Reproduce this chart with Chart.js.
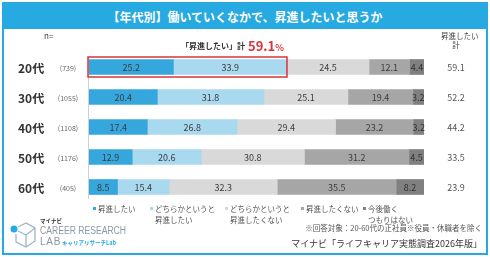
<!DOCTYPE html>
<html><head><meta charset="utf-8">
<script src="https://cdn.jsdelivr.net/npm/chart.js@4/dist/chart.umd.min.js"></script>
<style>
html,body{margin:0;padding:0;background:#fff;}
body{width:490px;height:257px;overflow:hidden;font-family:"Noto Sans CJK JP","Noto Sans",sans-serif;}
#wrap{position:relative;width:490px;height:257px;}
#frame{position:absolute;left:2px;top:2px;width:482px;height:249px;border:2px solid #27a9e1;box-sizing:content-box;}
#title{position:absolute;left:4px;top:4px;width:482px;height:25px;background:#27a9e1;color:#fff;font-weight:bold;font-size:12px;line-height:25px;text-align:center;}
canvas{position:absolute;left:0;top:0;}
.t{position:absolute;white-space:nowrap;color:#444;}
.lg{position:absolute;font-size:7.5px;line-height:11px;color:#555;top:203px;}
.lg i{position:absolute;left:-5px;top:4px;width:3px;height:3px;}
</style></head>
<body><div id="wrap">
<div id="frame"></div>
<div id="title">【年代別】働いていくなかで、昇進したいと思うか</div>
<canvas id="c" width="490" height="257"></canvas>
<div class="t" style="left:44px;top:30px;font-size:8px;">n=</div>
<div class="t" style="left:441px;top:31px;font-size:7.5px;line-height:9px;text-align:center;width:30px;">昇進したい<br>計</div>
<div class="t" style="left:181px;top:40px;font-size:8px;font-weight:bold;color:#333;">「昇進したい」計</div>
<div class="t" style="left:248px;top:36px;font-size:13px;font-weight:bold;color:#d8343a;">59.1<span style="font-size:9px;">%</span></div>
<div id="legend"></div>
<div class="t" style="right:8px;top:222px;font-size:7.5px;color:#555;">※回答対象：20-60代の正社員※役員・休職者を除く</div>
<div class="t" style="right:8px;top:237px;font-size:9px;color:#333;">マイナビ「ライフキャリア実態調査2026年版」</div>
<svg style="position:absolute;left:8px;top:221px;" width="30" height="31" viewBox="0 0 30 31">
<g fill="none" stroke="#9fb6c6" stroke-width="1.3"><path d="M10 6 L18 2 L27 7 L27 20 L18 26 L8 21 L8 13"/><path d="M18 14 L27 7 M18 14 L18 26 M18 14 L10 10"/></g>
<circle cx="6" cy="8" r="3.5" fill="#27a9e1"/></svg>
<div class="t" style="left:40px;top:217px;font-size:5.5px;font-weight:bold;color:#333;">マイナビ</div>
<div class="t" style="left:40px;top:225px;font-size:10px;color:#8a9aa6;font-family:'Liberation Sans',sans-serif;transform:scaleX(0.86);transform-origin:left top;">CAREER RESEARCH</div>
<div class="t" style="left:40px;top:236px;font-size:10px;color:#8a9aa6;font-family:'Liberation Sans',sans-serif;letter-spacing:0.8px;">LAB</div>
<div class="t" style="left:62px;top:239px;font-size:5.5px;color:#27a9e1;font-weight:bold;">キャリアリサーチLab</div>
</div>
<script>
const categories = ["20代","30代","40代","50代","60代"];
const sampleN = ["(739)","(1055)","(1108)","(1176)","(405)"];
const seriesNames = ["昇進したい","どちらかというと\n昇進したい","どちらかというと\n昇進したくない","昇進したくない","今後働く\nつもりはない"];
const want = [25.2,20.4,17.4,12.9,8.5];
const ratherWant = [33.9,31.8,26.8,20.6,15.4];
const ratherNot = [24.5,25.1,29.4,30.8,32.3];
const notWant = [12.1,19.4,23.2,31.2,35.5];
const noWork = [4.4,3.2,3.2,4.5,8.2];
const totals = ["59.1","52.2","44.2","33.5","23.9"];
const highlightTotal = 59.1;

const colors = ["#36a7dd","#a9d9ef","#d9d9d9","#a6a6a6","#808080"];
const seriesData = [want,ratherWant,ratherNot,notWant,noWork];

const lgX = [98,155,230,306,368];
const lg = document.getElementById('legend');
seriesNames.forEach((n,i)=>{
  const d=document.createElement('div');d.className='lg';d.style.left=lgX[i]+'px';
  d.innerHTML='<i style="background:'+colors[i]+'"></i>'+n.replace('\n','<br>');
  lg.appendChild(d);
});

const deco = {
  id:'deco',
  afterDatasetsDraw(chart){
    const ctx=chart.ctx, x=chart.scales.x, y=chart.scales.y;
    ctx.save();
    ctx.textAlign='center';ctx.textBaseline='middle';
    ctx.font='9px "Noto Sans CJK JP","Noto Sans",sans-serif';
    chart.data.datasets.forEach((ds,di)=>{
      const meta=chart.getDatasetMeta(di);
      meta.data.forEach((bar,i)=>{
        ctx.fillStyle= di===4 ? '#333' : '#3c3c3c';
        ctx.fillText(ds.data[i].toFixed(1),(bar.x+bar.base)/2,bar.y+0.5);
      });
    });
    categories.forEach((c,i)=>{
      const py=y.getPixelForValue(i);
      ctx.textAlign='left';ctx.fillStyle='#333';
      ctx.font='bold 12px "Noto Sans CJK JP",sans-serif';
      ctx.fillText(c,18,py+1);
      ctx.textAlign='center';ctx.fillStyle='#666';
      ctx.font='7px "Noto Sans CJK JP",sans-serif';
      ctx.fillText(sampleN[i],68,py+1);
      ctx.fillStyle='#555';ctx.font='9px "Noto Sans CJK JP",sans-serif';
      ctx.fillText(totals[i],456,py+1);
    });
    const x0=x.getPixelForValue(0);
    ctx.strokeStyle='#d0d0d0';ctx.lineWidth=1;
    ctx.beginPath();ctx.moveTo(x0-0.5,y.getPixelForValue(0)-10);ctx.lineTo(x0-0.5,y.getPixelForValue(4)+12);ctx.stroke();
    const b=chart.getDatasetMeta(0).data[0];
    const h=b.height/2+2.5;
    ctx.strokeStyle='#d8343a';ctx.lineWidth=1.5;
    ctx.strokeRect(x0-1,b.y-h,x.getPixelForValue(highlightTotal)-x0+1,h*2);
    ctx.restore();
  }
};

new Chart(document.getElementById('c'),{
  type:'bar',
  data:{labels:categories,datasets:seriesData.map((d,i)=>({label:seriesNames[i],data:d,backgroundColor:colors[i],borderWidth:0}))},
  options:{
    indexAxis:'y',responsive:false,animation:false,
    layout:{padding:{left:89,right:66,top:52,bottom:55}},
    scales:{
      x:{stacked:true,min:0,max:100,display:false},
      y:{stacked:true,display:false,grid:{display:false}}
    },
    datasets:{bar:{barThickness:15}},
    plugins:{legend:{display:false},tooltip:{enabled:false}}
  },
  plugins:[deco]
});
</script>
</body></html>
